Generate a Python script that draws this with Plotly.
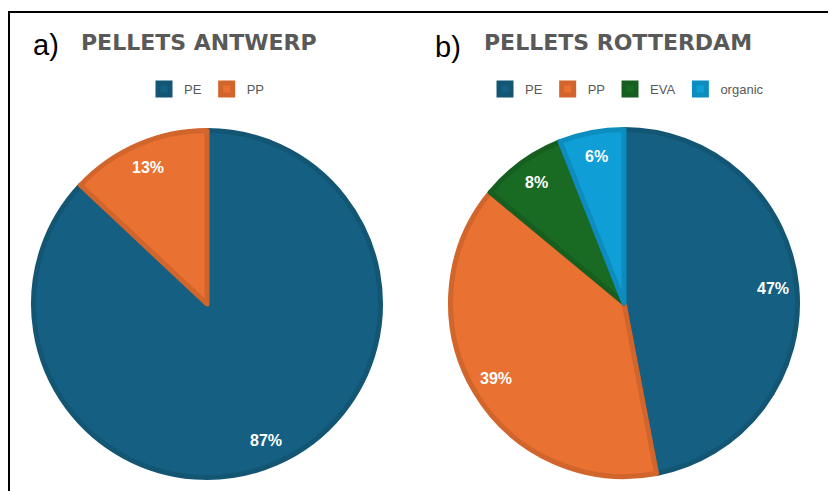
import math
import plotly.graph_objects as go

# page body has an 8px margin: figure is placed at (8, 8) in the window
OFF = 8
W, H = 836 - OFF, 491 - OFF

# ---- data ----
antwerp_labels = ["PE", "PP"]
antwerp_values = [87, 13]
rotterdam_labels = ["PE", "PP", "EVA", "organic"]
rotterdam_values = [47, 39, 8, 6]

colors = {"PE": "#156082", "PP": "#E97132", "EVA": "#196B24", "organic": "#0F9ED5"}
edge = {"PE": "#125674", "PP": "#D2652C", "EVA": "#165F20", "organic": "#0D8DBF"}


def px(x):
    return (x - OFF) / W


def py(y):
    return 1 - (y - OFF) / H


R_PX = 173.5


def px_dom(cx, cy):
    return dict(x=[px(cx - R_PX), px(cx + R_PX)], y=[py(cy + R_PX), py(cy - R_PX)])


dom_a = px_dom(207, 304)
dom_b = px_dom(624, 303)

LABEL_R = 0.86


def mid_angles(values):
    total = sum(values)
    out, cum = [], 0
    for v in values:
        out.append(2 * math.pi * (cum + v / 2) / total)
        cum += v
    return out


fig = go.Figure()
annotations = []

lab_font = dict(family="Liberation Sans", size=16, color="white", weight="bold")

for labels, values, dom, leg, grp, xr, yr in [
    (antwerp_labels, antwerp_values, dom_a, "legend", "a", "x", "y"),
    (rotterdam_labels, rotterdam_values, dom_b, "legend2", "b", "x2", "y2"),
]:
    fig.add_trace(go.Pie(
        labels=labels, values=values, sort=False, direction="clockwise", rotation=0,
        marker=dict(colors=[colors[l] for l in labels],
                    line=dict(color=[edge[l] for l in labels], width=5)),
        textinfo="none", hoverinfo="label+percent", domain=dom, legend=leg,
        legendgroup=grp, showlegend=True,
    ))
    for v, a in zip(values, mid_angles(values)):
        annotations.append(dict(
            text=f"{v}%", x=LABEL_R * math.sin(a), y=LABEL_R * math.cos(a),
            xref=xr, yref=yr, showarrow=False, font=lab_font,
            xanchor="center", yanchor="middle",
        ))

axis_common = dict(visible=False, range=[-1, 1], fixedrange=True)

legend_common = dict(
    orientation="h", xanchor="center", yanchor="middle", traceorder="normal",
    font=dict(family="Liberation Sans", size=13, color="#595959"),
    bgcolor="rgba(0,0,0,0)", itemclick=False, itemdoubleclick=False,
    tracegroupgap=0,
)

title_font = dict(family="DejaVu Sans", size=22, color="#595959", weight="bold")
tag_font = dict(family="Liberation Sans", size=29, color="black")

annotations += [
    dict(text="a)", x=px(31), y=py(45), xref="paper", yref="paper",
         xanchor="left", yanchor="middle", showarrow=False, font=tag_font),
    dict(text="PELLETS ANTWERP", x=px(79), y=py(43), xref="paper", yref="paper",
         xanchor="left", yanchor="middle", showarrow=False, font=title_font),
    dict(text="b)", x=px(433), y=py(47), xref="paper", yref="paper",
         xanchor="left", yanchor="middle", showarrow=False, font=tag_font),
    dict(text="PELLETS ROTTERDAM", x=px(482), y=py(43), xref="paper", yref="paper",
         xanchor="left", yanchor="middle", showarrow=False, font=title_font),
]

shapes = [
    dict(type="line", xref="paper", yref="paper", x0=px(8), x1=1, y0=py(12), y1=py(12),
         line=dict(color="black", width=2)),
    dict(type="line", xref="paper", yref="paper", x0=px(9), x1=px(9), y0=py(11), y1=0,
         line=dict(color="black", width=2)),
]

fig.update_layout(
    width=W, height=H, autosize=False,
    margin=dict(l=0, r=0, t=0, b=0),
    paper_bgcolor="white", plot_bgcolor="rgba(0,0,0,0)",
    xaxis=dict(domain=dom_a["x"], anchor="y", **axis_common),
    yaxis=dict(domain=dom_a["y"], anchor="x", **axis_common),
    xaxis2=dict(domain=dom_b["x"], anchor="y2", **axis_common),
    yaxis2=dict(domain=dom_b["y"], anchor="x2", **axis_common),
    legend=dict(x=px(207), y=py(89), **legend_common),
    legend2=dict(x=px(627), y=py(89), **legend_common),
    annotations=annotations, shapes=shapes,
)

fig.write_html("out.html")
